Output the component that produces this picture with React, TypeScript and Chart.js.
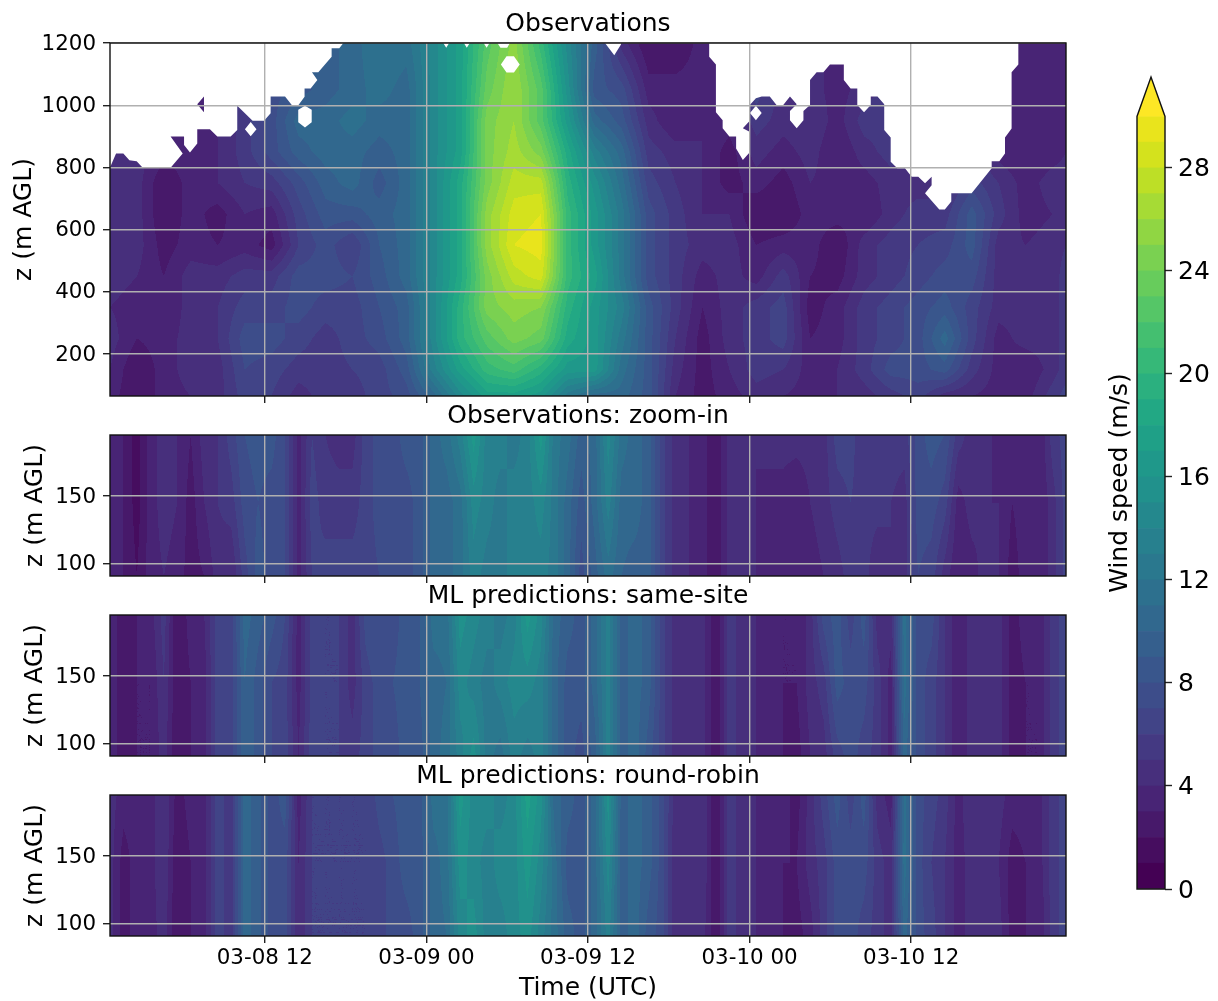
import React, { useEffect, useRef } from "react";
import { Chart, registerables } from "chart.js";

Chart.register(...registerables);

const FONT = "'DejaVu Sans'";

// ---- time axis (hours after 03-08 00:00) ----
const tickHours = [12, 24, 36, 48, 60];
const tickLabels = ["03-08 12", "03-09 00", "03-09 12", "03-10 00", "03-10 12"];
const timeMin = 0.5;
const timeMax = 71.5;

// ---- observations, full profile ----
const obsHeights = [65, 150, 250, 350, 450, 550, 650, 750, 850, 950, 1050, 1200];
const obsHours = [0.5, 2.5, 4.5, 6.5, 8.5, 10.5, 12.5, 14.5, 16.5, 18.5, 20.5, 22.5, 24.5, 26.5, 28.5, 30.5, 32.5, 34.5, 36.5, 38.5, 40.5, 42.5, 44.5, 46.5, 48.5, 50.5, 52.5, 54.5, 56.5, 58.5, 60.5, 62.5, 64.5, 66.5, 68.5, 70.5, 71.5];
const obsColumns = [
  [3, 3.5, 4, 3.5, 4, 3.5, 4, 4.5, 4, 4, 4, 4],
  [1.5, 1.5, 2.5, 3, 3.5, 4, 4, 4, 4, 4, 4, 4],
  [3, 3, 3, 2.5, 2.5, 2, 1.5, 1.5, 3, 3, 3, 3],
  [3.5, 4, 4, 4, 4, 3, 3, 3, 3, 3, 3, 3],
  [4, 4, 4.5, 4.5, 4, 2.5, 2, 3.5, 3.5, 3.5, 3.5, 3.5],
  [6, 6.5, 7, 6, 5, 3, 3.5, 4.5, 5, 5, 5, 5],
  [5.5, 6, 7, 6, 5, 2, 3, 5, 7, 7, 7, 7],
  [4, 5, 6, 7, 7, 5.5, 6, 7, 9, 10, 8, 8],
  [5, 5, 5, 6, 7, 7, 8, 9, 10, 10, 9, 9],
  [5, 5.5, 6, 6, 6.5, 5.5, 8, 10, 10, 11, 10, 10],
  [6, 6, 7, 7.5, 8, 8.5, 9, 8, 9, 10, 11, 11.5],
  [7, 8, 9, 9, 10, 10, 10, 10, 10, 10, 10, 11],
  [10, 13, 14, 14, 14, 14, 14, 14, 14, 14, 14, 14],
  [14, 17, 19, 19, 18, 18, 18, 18, 17, 17, 17, 17],
  [17, 20, 22, 24, 24, 25, 25, 24, 24, 24, 23, 22],
  [17, 21, 24, 25, 27, 28.5, 28, 27, 26, 25.5, 25.5, 25],
  [16, 19, 23, 24.5, 28, 29, 28.5, 27, 24, 22, 22, 20],
  [12, 16, 18, 19, 20, 20, 20, 19, 18, 16, 15, 14],
  [10, 16, 16, 16, 17, 16, 16, 15, 13, 10, 8, 9],
  [10, 11, 12, 13, 12, 12, 12, 11, 10, 8, 7, 4],
  [8, 8, 8, 8, 7, 7, 7, 6, 5, 4, 3, 1.5],
  [3.5, 4, 4.5, 5, 5, 5, 5, 4.5, 4, 2.5, 3, 1.5],
  [2, 2, 2, 2.5, 3, 4, 3.5, 3.5, 3.5, 3.5, 3, 3],
  [3, 3.5, 4, 4, 4, 4, 3.5, 2, 2, 3, 3, 3],
  [4, 5, 5, 5, 3, 2.5, 1.5, 3, 4, 5, 6, 5],
  [3.5, 4.5, 6, 6, 5, 3, 1.5, 2, 3, 4, 4, 4],
  [3, 3, 2.5, 2, 2.5, 3, 3, 3.5, 4, 4.5, 4, 4],
  [3.5, 3.5, 3, 3, 2, 1.5, 3, 3, 2.5, 3, 3, 3],
  [4, 5, 5, 5, 4, 4, 2.5, 3, 4, 5, 4, 4],
  [5, 7, 6, 6, 5, 5, 4, 4, 5, 5, 5, 5],
  [6, 7, 7, 7, 6, 5.5, 5, 4, 4, 5, 5, 5],
  [4, 8, 10, 8, 7, 6, 5, 4, 4, 5, 5, 5],
  [3.5, 5, 6, 6, 7, 8, 8, 6, 5, 5, 4, 4],
  [3, 3, 3, 4, 4, 4, 5, 4.5, 3, 3, 3, 3],
  [3, 2.5, 4, 4, 3.5, 3.5, 3, 3, 2.5, 3, 3, 3],
  [5, 4, 4, 4, 4, 4, 3.5, 4, 3, 3, 2.5, 3],
  [6, 5, 5, 5, 5, 4.5, 4, 4, 3.5, 3, 3, 3],
];

// top edge of valid lidar returns: [hour, height] pairs
const obsDataEdge = [
  [0.5, 800], [0.95, 845], [1.49, 845], [1.94, 823], [2.48, 820], [2.93, 799], [5.0, 799], [5.9, 845], [5.0, 899], [6.0, 899],
  [6.0, 872], [6.44, 848], [6.98, 877], [6.98, 923], [7.92, 923], [8.47, 899], [9.46, 899], [9.95, 920], [9.95, 998], [11.09, 950],
  [11.94, 950], [12.43, 974], [12.43, 1028], [13.5, 1028], [14, 1001], [14.5, 1001], [14.95, 1027], [14.95, 1054], [15.4, 1054], [15.9, 1081],
  [15.5, 1106], [15.97, 1106], [16.96, 1156], [16.96, 1183], [17.53, 1183], [17.83, 1200],
  [25.25, 1200], [25.47, 1185], [25.69, 1200], [26.78, 1200], [27.0, 1185], [27.22, 1200], [28.25, 1200], [28.47, 1185], [28.69, 1200],
  [29.27, 1200], [29.5, 1185], [30.0, 1185], [30.2, 1200],
  [37.26, 1200], [37.95, 1161], [38.45, 1195], [38.45, 1200],
  [45.0, 1200], [45.0, 1156], [45.5, 1131], [45.5, 977], [46, 952], [46, 926], [46.5, 899], [47, 899], [47, 861], [47.5, 824],
  [48, 848], [48, 915], [47.5, 926], [48, 949], [48, 1000], [48.47, 1022], [48.9, 1028], [49.5, 1028], [50, 1001], [50.5, 1001],
  [51, 1028], [51.5, 1003], [51, 981], [51, 952], [51.5, 926], [52, 952], [52, 981], [52.49, 1001], [52.49, 1081], [52.98, 1106],
  [53.48, 1106], [53.97, 1131], [55, 1131], [55, 1081], [55.5, 1054], [56, 1054], [56, 1001], [56.5, 977], [57, 1001], [57, 1028],
  [57.5, 1028], [58, 1003], [58, 920], [58.48, 896], [58.48, 818], [58.97, 797], [59.54, 797], [60.04, 770], [60.53, 770], [61.03, 749],
  [61.52, 770], [61.52, 743], [61.03, 717], [62.09, 665], [62.5, 665], [62.98, 690], [62.98, 717], [64.49, 717], [65.98, 797], [65.98, 820],
  [66.55, 820], [66.97, 845], [66.97, 896], [67.46, 925], [67.46, 1106], [67.96, 1131], [67.96, 1200],
];
// isolated missing samples and the one isolated valid sample
const obsGaps = [
  [[10.52, 923], [10.95, 946], [11.38, 923], [10.95, 900]],
  [[14.48, 985], [14.98, 998], [15.48, 985], [15.48, 945], [14.98, 928], [14.48, 945]],
  [[29.53, 1131], [29.95, 1157], [30.5, 1157], [30.93, 1131], [30.5, 1105], [29.95, 1105]],
  [[48.03, 975], [48.47, 998], [48.9, 975], [48.47, 952]],
  [[6.98, 1003], [7.48, 1028], [7.48, 977]],
];

// ---- 90-195 m panels: one [top, mid, bottom] triple per hour ----
const zoomHeights = [195, 145, 91];
const zoomHours = [0.5, 1.5, 2.5, 3.5, 4.5, 5.5, 6.5, 7.5, 8.5, 9.5, 10.5, 11.5, 12.5, 13.5, 14.5, 15.5, 16.5, 17.5, 18.5, 19.5, 20.5, 21.5, 22.5, 23.5, 24.5, 25.5, 26.5, 27.5, 28.5, 29.5, 30.5, 31.5, 32.5, 33.5, 34.5, 35.5, 36.5, 37.5, 38.5, 39.5, 40.5, 41.5, 42.5, 43.5, 44.5, 45.5, 46.5, 47.5, 48.5, 49.5, 50.5, 51.5, 52.5, 53.5, 54.5, 55.5, 56.5, 57.5, 58.5, 59.5, 60.5, 61.5, 62.5, 63.5, 64.5, 65.5, 66.5, 67.5, 68.5, 69.5, 70.5, 71.5];
const zoomObs = [
  [3,3,3],[2.5,2.5,2.5],[1,1,1.5],[3,3,3],[4,4,3.5],[3.5,3.5,3],[2.5,2,2],[4,3.5,2.5],[4.5,4.5,4],[6,5,3.5],
  [7.5,7,6],[8,7.5,8],[8,7,7],[6.5,6.5,6.5],[3,3,3],[5.5,6,5.5],[4.5,5,6],[4,5,6],[4,5,6],[6,6,6],
  [7,7,6.5],[7,7,7],[8,7,7],[8,8,8],[10,10,10],[11,10,10],[13,11,11],[16,14,13],[13,13,12],[13,12,12],
  [12,13,13],[13,13,13],[16,14,13],[12,12,12],[11,10,10],[9,8,7],[10,10,9],[14,13,11],[11,10,9.5],[10,10,9],
  [9,9,9],[6,6,6],[4,4,4],[3.5,3.5,3.5],[3,3,3],[1.5,1.5,1.5],[4,4,4],[4,4,4],[3.5,3.5,3.5],[4,3,3.5],
  [4,3,2.5],[4,2.5,3],[4,3.5,3],[4,4,3.5],[6,5,4],[6,5.5,5],[4.5,5,5],[4.5,5,3.5],[5,4.5,4.5],[5,4,4],
  [7,7,6.5],[8,7,6],[7.5,6,4],[5,3,2.5],[4,4,3],[4,3.5,4],[3,3.5,3.5],[2.5,2.5,2],[3,3,3],[2.5,2.5,2.5],
  [5,4,4],[6,6,6],
];
const zoomSameSite = [
  [3,3,3],[2,2,2],[2.5,2.5,2.5],[3,2.5,2.5],[5,4.5,4],[1.5,1.5,1.5],[3,2.5,2.5],[3.5,3,3],[6,6,6],[6,6,6],
  [10,9.5,9.5],[9,8,8],[8,6.5,6.5],[6.5,6,6],[3,3,3.5],[6,6,6],[5.5,5.5,5.5],[5.5,5.5,5.5],[4,4,5],[7,6,6],
  [7.5,7,7],[7,7.5,7],[8,8,8],[8.5,8.5,8],[11,10,10],[11,10.5,11],[15,14,13],[14,13,15],[13,12,12],[12,13,11],
  [13,14,13],[16,14,12],[14,13,13],[10,10,10],[9,8,8],[8,8,7],[10,10,9],[13,13,13],[9,9,9],[10,10,10],
  [9,9,8],[6,6,6],[4,4,4],[3.5,3.5,3.5],[4,4,4],[1.5,1.5,1.5],[5,5,5],[4,4,4],[3.5,3.5,3.5],[3,3,3],
  [2.5,2.5,2.5],[2.5,2.5,2],[4,4,3.5],[7,5,4],[8,8,6],[6,7,7],[8,7,6],[4,5,5],[4,3,3],[11,11,10],
  [7,7,7],[7,6,6],[4.5,4.5,4.5],[2.5,2.5,2.5],[4,4,4],[4,4,4],[4,4,4],[2,2,2],[3,2.5,2.5],[2.5,2.5,2.5],
  [5,5,5],[6,6,6],
];
const zoomRoundRobin = [
  [4,4,4],[3,2,2],[3,3,3],[3,3,3],[4.5,4.5,4],[2,1.5,1.5],[3,2.5,2.5],[3,3,3],[6,6,6],[5,5,5],
  [10,10,10],[9,9,9],[7,7,7],[8,7,7],[3,3.5,3.5],[5.5,5.5,5.5],[5.5,5.5,5.5],[5.5,5.5,5.5],[5.5,5.5,5.5],[5.5,5.5,5.5],
  [7,6,6],[7.5,7,7],[8,8,7],[8,8,8],[11,10,10],[11,11,10.5],[16,15,14],[14,14,15],[14,13,13],[13,14,13],
  [14,14,14],[17,16,15],[15,14,13],[10,11,11],[9,8,9],[8,8,8],[10,10,10],[15,14,13],[9,9,9],[10,10,10],
  [9,9,8],[7,7,7],[4,3.5,3.5],[4,4,4],[4.5,4.5,4],[1.5,1.5,1.5],[5,5,5],[4,4,4],[3.5,3.5,3.5],[3.5,3,3],
  [3,2.5,2.5],[2,2.5,2],[4,4,3],[6,5,5],[8,7,7],[6,7,7],[8,7,6],[4,5,5],[3,4,4],[11,11,10],
  [7,7,7],[6,5.5,6],[5,4.5,4.5],[3,3,3],[4.5,4,4],[4.5,4,4],[4,3.5,4],[3,2,2],[3,2.5,2.5],[3,3,2.5],
  [5,5,5],[6,6,6],
];

// ---- colour scale ----
const colorbarTicks = [0, 4, 8, 12, 16, 20, 24, 28];
const levelCount = 30;
// the band readings above are the lower edge of the band seen; this centres them in it
const bandCentre = 0.5;
const viridisStops = [
  [68, 1, 84], [71, 19, 101], [72, 36, 117], [70, 52, 128], [65, 68, 135], [59, 82, 139], [53, 95, 141],
  [47, 108, 142], [42, 120, 142], [37, 132, 142], [33, 145, 140], [30, 156, 137], [34, 168, 132],
  [47, 180, 124], [68, 191, 112], [94, 201, 98], [122, 209, 81], [155, 217, 60], [189, 223, 38], [223, 227, 24], [253, 231, 37],
];
function viridis(t: number) {
  const p = Math.min(Math.max(t, 0), 1) * (viridisStops.length - 1);
  const i = Math.min(Math.floor(p), viridisStops.length - 2);
  const f = p - i;
  return viridisStops[i].map((c, k) => Math.round(c + (viridisStops[i + 1][k] - c) * f));
}
const levelColors: number[][] = [];
for (let i = 0; i <= levelCount; i++) levelColors.push(viridis(i / levelCount));
const css = (c: number[]) => `rgb(${c[0]},${c[1]},${c[2]})`;

function locate(arr: number[], v: number) {
  // arr ascending
  let i = 0;
  while (i < arr.length - 2 && v > arr[i + 1]) i++;
  const f = (v - arr[i]) / (arr[i + 1] - arr[i]);
  return [i, Math.min(Math.max(f, 0), 1)];
}

// grid[timeIndex][heightIndex], heights ascending
function fieldPlugin(hours: number[], heights: number[], grid: number[][], edge?: number[][], gaps?: number[][][]) {
  return {
    id: "field",
    beforeDatasetsDraw(chart: any) {
      const { ctx, chartArea: a, scales } = chart;
      const xs = scales.x, ys = scales.y;
      const L = Math.round(a.left), T = Math.round(a.top);
      const W = Math.round(a.right) - L, H = Math.round(a.bottom) - T;
      const off = document.createElement("canvas");
      off.width = W; off.height = H;
      const oc = off.getContext("2d")!;
      const img = oc.createImageData(W, H);
      const xloc = [];
      for (let px = 0; px < W; px++) xloc.push(locate(hours, xs.getValueForPixel(L + px + 0.5)));
      for (let py = 0; py < H; py++) {
        const [j, fy] = locate(heights, ys.getValueForPixel(T + py + 0.5));
        for (let px = 0; px < W; px++) {
          const [i, fx] = xloc[px];
          const v =
            grid[i][j] * (1 - fx) * (1 - fy) +
            grid[i + 1][j] * fx * (1 - fy) +
            grid[i][j + 1] * (1 - fx) * fy +
            grid[i + 1][j + 1] * fx * fy;
          const c = levelColors[Math.min(Math.max(Math.floor(v + bandCentre), 0), levelCount)];
          const o = (py * W + px) * 4;
          img.data[o] = c[0]; img.data[o + 1] = c[1]; img.data[o + 2] = c[2]; img.data[o + 3] = 255;
        }
      }
      oc.putImageData(img, 0, 0);
      ctx.drawImage(off, L, T);
      if (edge) {
        ctx.save();
        ctx.beginPath();
        ctx.rect(a.left, a.top, a.right - a.left, a.bottom - a.top);
        ctx.clip();
        ctx.beginPath();
        edge.forEach(([h, z], k) => {
          const X = xs.getPixelForValue(h), Y = ys.getPixelForValue(z);
          if (k === 0) ctx.moveTo(X, Y); else ctx.lineTo(X, Y);
        });
        ctx.lineTo(xs.getPixelForValue(timeMax), ys.getPixelForValue(1200));
        ctx.lineTo(xs.getPixelForValue(timeMax), a.top - 5);
        ctx.lineTo(a.left, a.top - 5);
        ctx.closePath();
        (gaps || []).forEach((poly) => {
          poly.forEach(([h, z], k) => {
            const X = xs.getPixelForValue(h), Y = ys.getPixelForValue(z);
            if (k === 0) ctx.moveTo(X, Y); else ctx.lineTo(X, Y);
          });
          ctx.closePath();
        });
        ctx.fillStyle = "#fff";
        ctx.fill("evenodd");
        ctx.restore();
      }
    },
    afterDraw(chart: any) {
      const { ctx, chartArea: a } = chart;
      ctx.save();
      ctx.strokeStyle = "#111";
      ctx.lineWidth = 1.4;
      ctx.strokeRect(a.left, a.top, a.right - a.left, a.bottom - a.top);
      ctx.restore();
    },
  };
}

const panelSpecs = [
  { key: "obs", title: "Observations", top: 8, height: 396, xh: 8, ymin: 65, ymax: 1200, yticks: [200, 400, 600, 800, 1000, 1200], labelPad: 12, last: false },
  { key: "zoomObs", title: "Observations: zoom-in", top: 400, height: 184, xh: 8, ymin: 91, ymax: 195, yticks: [100, 150], labelPad: 23, last: false },
  { key: "same", title: "ML predictions: same-site", top: 580, height: 184, xh: 8, ymin: 91, ymax: 195, yticks: [100, 150], labelPad: 23, last: false },
  { key: "rr", title: "ML predictions: round-robin", top: 760, height: 241, xh: 65, ymin: 91, ymax: 195, yticks: [100, 150], labelPad: 23, last: true },
];

function buildPanel(canvas: HTMLCanvasElement, spec: any) {
  let hours: number[], heights: number[], grid: number[][], edge, gaps;
  if (spec.key === "obs") {
    hours = obsHours; heights = obsHeights; grid = obsColumns; edge = obsDataEdge; gaps = obsGaps;
  } else {
    const src = spec.key === "zoomObs" ? zoomObs : spec.key === "same" ? zoomSameSite : zoomRoundRobin;
    hours = zoomHours;
    heights = [...zoomHeights].reverse();
    grid = src.map((c) => [...c].reverse());
  }
  const points: any[] = [];
  hours.forEach((h, i) => heights.forEach((z, j) => points.push({ x: h, y: z, v: grid[i][j] })));
  return new Chart(canvas, {
    type: "scatter",
    data: { datasets: [{ label: spec.title, data: points, pointRadius: 0, pointHoverRadius: 0, showLine: false }] },
    plugins: [fieldPlugin(hours, heights, grid, edge, gaps)],
    options: {
      animation: false,
      responsive: false,
      devicePixelRatio: 1,
      layout: { padding: { left: 0, right: 110, top: 0, bottom: 0 } },
      plugins: {
        legend: { display: false },
        tooltip: { enabled: false },
        title: {
          display: true,
          fullSize: false,
          text: spec.title,
          color: "#000",
          font: { family: FONT, size: 25, weight: "normal", lineHeight: 1.2 },
          padding: { top: 1, bottom: 4 },
        },
      },
      scales: {
        x: {
          type: "linear",
          min: timeMin,
          max: timeMax,
          afterBuildTicks: (s: any) => { s.ticks = tickHours.map((value) => ({ value })); },
          afterFit: (s: any) => { s.height = spec.xh; s.paddingLeft = 0; s.paddingRight = 0; },
          grid: { color: "#b0b0b0", lineWidth: 1.4, z: 1, tickColor: "#222", tickLength: 7, tickWidth: 1.4 },
          border: { display: false },
          ticks: {
            display: spec.last,
            autoSkip: false,
            maxRotation: 0,
            padding: 3,
            color: "#000",
            font: { family: FONT, size: 21.4 },
            callback: (v: any) => tickLabels[tickHours.indexOf(v)],
          },
          title: {
            display: spec.last,
            text: "Time (UTC)",
            color: "#000",
            font: { family: FONT, size: 25, lineHeight: 1 },
            padding: { top: 0, bottom: 0 },
          },
        },
        y: {
          type: "linear",
          min: spec.ymin,
          max: spec.ymax,
          afterBuildTicks: (s: any) => { s.ticks = spec.yticks.map((value: number) => ({ value })); },
          afterFit: (s: any) => { s.width = 110; s.paddingTop = 0; s.paddingBottom = 0; },
          grid: { color: "#b0b0b0", lineWidth: 1.4, z: 1, tickColor: "#222", tickLength: 7, tickWidth: 1.4 },
          border: { display: false },
          ticks: {
            autoSkip: false,
            padding: 7,
            labelOffset: 1,
            color: "#000",
            font: { family: FONT, size: 21.4 },
            callback: (v: any) => String(v),
          },
          title: {
            display: true,
            text: "z (m AGL)",
            color: "#000",
            font: { family: FONT, size: 25, lineHeight: 1 },
            padding: { top: spec.labelPad, bottom: 0 },
          },
        },
      },
    },
  } as any);
}

const extendTop = 31.53;

function buildColorbar(canvas: HTMLCanvasElement) {
  const datasets = levelColors.slice(0, levelCount).map((c, i) => ({
    label: `${i}-${i + 1}`,
    data: [[i, i + 1]],
    backgroundColor: css(c),
    borderWidth: 0,
    yAxisID: "y",
    categoryPercentage: 1,
    barPercentage: 1,
    grouped: false,
  }));
  const barFrame = {
    id: "barFrame",
    afterDatasetsDraw(chart: any) {
      const { ctx, chartArea: a, scales } = chart;
      const y30 = scales.y.getPixelForValue(levelCount);
      const y0 = scales.y.getPixelForValue(0);
      const tip = scales.y.getPixelForValue(extendTop);
      ctx.save();
      ctx.beginPath();
      ctx.moveTo(a.left, y30);
      ctx.lineTo((a.left + a.right) / 2, tip);
      ctx.lineTo(a.right, y30);
      ctx.closePath();
      ctx.fillStyle = css(levelColors[levelCount]);
      ctx.fill();
      ctx.beginPath();
      ctx.moveTo(a.left, y0);
      ctx.lineTo(a.left, y30);
      ctx.lineTo((a.left + a.right) / 2, tip);
      ctx.lineTo(a.right, y30);
      ctx.lineTo(a.right, y0);
      ctx.closePath();
      ctx.strokeStyle = "#111";
      ctx.lineWidth = 1.4;
      ctx.stroke();
      ctx.restore();
    },
  };
  return new Chart(canvas, {
    type: "bar",
    data: { labels: ["Wind speed"], datasets },
    plugins: [barFrame],
    options: {
      animation: false,
      responsive: false,
      devicePixelRatio: 1,
      layout: { padding: { top: 17, bottom: 31, left: 0, right: 0 } },
      plugins: { legend: { display: false }, tooltip: { enabled: false } },
      scales: {
        x: { display: false, stacked: false },
        y: {
          position: "right",
          min: 0,
          max: extendTop,
          afterBuildTicks: (s: any) => { s.ticks = colorbarTicks.map((value) => ({ value })); },
          afterFit: (s: any) => { s.width = 53; s.paddingTop = 0; s.paddingBottom = 0; },
          grid: { display: true, drawOnChartArea: false, tickColor: "#222", tickLength: 7, tickWidth: 1.4 },
          border: { display: false },
          ticks: { autoSkip: false, padding: 6, labelOffset: 2, color: "#000", font: { family: FONT, size: 25 } },
        },
        y2: {
          position: "left",
          min: 0,
          max: extendTop,
          afterFit: (s: any) => { s.width = 37; s.paddingTop = 0; s.paddingBottom = 0; },
          grid: { display: false },
          border: { display: false },
          ticks: { display: false },
          title: {
            display: true,
            text: "Wind speed (m/s)",
            color: "#000",
            font: { family: FONT, size: 25, lineHeight: 1 },
            padding: { top: 7.5, bottom: 0 },
          },
        },
      },
    },
  } as any);
}

export default function App() {
  const panelRefs = useRef<(HTMLCanvasElement | null)[]>([]);
  const barRef = useRef<HTMLCanvasElement | null>(null);
  useEffect(() => {
    const charts = panelSpecs.map((s, i) => buildPanel(panelRefs.current[i]!, s));
    charts.push(buildColorbar(barRef.current!));
    return () => charts.forEach((c) => c.destroy());
  }, []);
  return (
    <div style={{ position: "absolute", left: 0, top: 0, width: 1218, height: 1001, overflow: "hidden", background: "#fff" }}>
      {panelSpecs.map((s, i) => (
        <canvas
          key={s.key}
          ref={(el) => { panelRefs.current[i] = el; }}
          width={1176}
          height={s.height}
          style={{ position: "absolute", left: 0, top: s.top, width: 1176, height: s.height }}
        />
      ))}
      <canvas ref={barRef} width={118} height={860} style={{ position: "absolute", left: 1100, top: 60, width: 118, height: 860 }} />
    </div>
  );
}
